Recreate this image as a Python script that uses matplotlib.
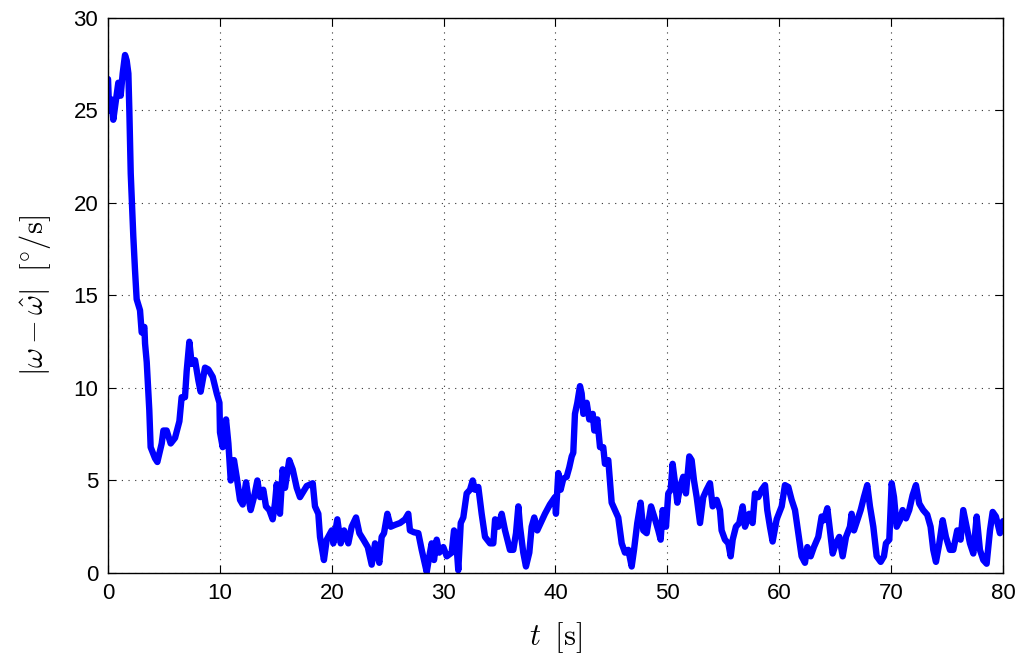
import matplotlib
matplotlib.use("Agg")
import matplotlib.pyplot as plt

# Estimation error |omega - omega_hat| over time
t = [0.0, 0.1, 0.3, 0.47, 0.7, 0.92, 1.13, 1.31, 1.52, 1.67, 1.82, 1.91, 2.03, 2.26,
     2.41, 2.56, 2.86, 3.01, 3.25, 3.31, 3.46, 3.69, 3.81, 4.2, 4.41, 4.8, 4.95, 5.24,
     5.6, 5.99, 6.38, 6.58, 6.88, 7.03, 7.27, 7.48, 7.78, 8.08, 8.28, 8.67, 8.97, 9.36,
     9.72, 9.96, 10.01, 10.25, 10.55, 10.76, 10.97, 11.26, 11.5, 11.8, 12.04, 12.34,
     12.54, 12.75, 13.05, 13.35, 13.59, 13.88, 14.12, 14.42, 14.72, 14.93, 15.08, 15.37,
     15.61, 15.82, 16.2, 16.51, 16.87, 17.16, 17.76, 18.3, 18.5, 18.8, 18.95, 19.3,
     19.55, 20.0, 20.14, 20.5, 20.8, 21.1, 21.48, 21.78, 22.17, 22.47, 22.83, 23.22,
     23.57, 23.87, 24.25, 24.46, 24.67, 24.97, 25.27, 25.65, 26.1, 26.55, 26.84, 26.99,
     27.35, 27.74, 28.04, 28.25, 28.49, 28.72, 28.93, 29.14, 29.38, 29.61, 29.97, 30.28,
     30.72, 30.93, 31.1, 31.31, 31.53, 31.76, 32.06, 32.36, 32.6, 32.8, 33.1, 33.4,
     33.7, 34.15, 34.44, 34.6, 34.89, 35.19, 35.49, 35.93, 36.23, 36.47, 36.68, 36.83,
     37.12, 37.36, 37.66, 37.87, 38.1, 38.37, 38.68, 39.06, 39.5, 39.95, 40.04, 40.25,
     40.46, 40.7, 41.0, 41.23, 41.45, 41.59, 41.74, 41.95, 42.19, 42.34, 42.49, 42.79,
     43.02, 43.33, 43.47, 43.74, 43.98, 44.27, 44.42, 44.72, 45.02, 45.32, 45.61, 45.92,
     46.21, 46.51, 46.81, 47.02, 47.31, 47.61, 47.85, 48.15, 48.54, 48.9, 49.19, 49.4,
     49.58, 49.88, 50.08, 50.3, 50.47, 50.68, 50.89, 51.13, 51.42, 51.66, 51.96, 52.17,
     52.38, 52.62, 52.92, 53.21, 53.51, 53.81, 54.05, 54.41, 54.7, 54.85, 55.15, 55.45,
     55.66, 55.84, 56.13, 56.43, 56.73, 56.94, 57.32, 57.62, 57.83, 58.13, 58.43, 58.73,
     58.93, 59.17, 59.41, 59.77, 60.22, 60.51, 60.81, 61.11, 61.41, 61.7, 62.0, 62.3,
     62.51, 62.81, 63.1, 63.49, 63.79, 64.0, 64.3, 64.54, 64.78, 65.07, 65.37, 65.67,
     65.97, 66.32, 66.47, 66.68, 66.98, 67.28, 67.57, 67.87, 68.11, 68.41, 68.71, 69.07,
     69.36, 69.54, 69.84, 70.05, 70.26, 70.5, 70.79, 71.03, 71.33, 71.62, 71.92, 72.22,
     72.52, 72.87, 73.23, 73.53, 73.77, 74.01, 74.31, 74.61, 74.9, 75.26, 75.56, 75.91,
     76.21, 76.45, 76.75, 77.05, 77.35, 77.65, 77.94, 78.24, 78.54, 78.84, 79.08, 79.37,
     79.73, 80.0]

err = [26.7, 25.0, 25.6, 24.5, 25.5, 26.5, 25.8, 27.0, 28.0, 27.7, 27.0, 24.9, 21.6, 18.2,
       16.4, 14.8, 14.2, 13.0, 13.3, 12.4, 11.4, 8.8, 6.8, 6.2, 6.0, 7.0, 7.7, 7.7,
       7.0, 7.3, 8.2, 9.5, 9.5, 10.9, 12.5, 11.3, 11.5, 10.4, 9.8, 11.1, 11.0, 10.6,
       9.7, 9.2, 7.6, 6.8, 8.3, 7.0, 5.0, 6.1, 5.2, 3.95, 3.7, 4.9,
       4.1, 3.4, 4.1, 5.0, 4.1, 4.5, 3.6, 3.4, 2.9, 3.8, 4.8, 3.2,
       5.6, 4.6, 6.1, 5.6, 4.6, 4.1, 4.7, 4.85, 3.6, 3.2, 1.95, 0.7,
       1.8, 2.3, 1.6, 2.9, 1.6, 2.3, 1.6, 2.5, 3.0, 2.15, 1.8, 1.4,
       0.45, 1.6, 0.55, 1.95, 2.15, 3.2, 2.5, 2.6, 2.7, 2.9, 3.2, 2.3,
       2.2, 2.15, 1.25, 0.7, 0.05, 0.9, 1.6, 0.7, 1.8, 1.1, 1.4, 0.9,
       1.1, 2.3, 1.95, 0.15, 2.7, 3.0, 4.3, 4.5, 5.0, 4.5, 4.65, 3.2,
       1.95, 1.6, 1.6, 2.9, 2.5, 3.2, 2.3, 1.25, 1.25, 2.15, 3.6, 2.5,
       1.1, 0.35, 1.1, 2.5, 3.0, 2.3, 2.7, 3.2, 3.7, 4.1, 3.2, 5.4,
       4.5, 5.1, 5.2, 5.7, 6.3, 6.5, 8.6, 9.2, 10.1, 9.7, 8.6, 9.2,
       8.3, 8.6, 7.7, 8.3, 6.8, 6.8, 5.9, 6.1, 3.8, 3.4, 3.0, 1.6,
       1.1, 1.25, 0.35, 1.25, 2.7, 3.8, 2.3, 2.15, 3.6, 2.9, 2.3, 1.8,
       3.4, 2.5, 4.3, 4.5, 5.9, 4.9, 3.8, 4.65, 5.2, 4.3, 6.3, 6.1,
       5.0, 4.1, 2.7, 4.1, 4.5, 4.85, 3.6, 3.95, 3.4, 2.3, 1.8, 1.6,
       0.9, 1.8, 2.5, 2.7, 3.6, 2.5, 3.2, 2.7, 4.3, 4.1, 4.5, 4.75,
       3.4, 2.5, 1.7, 2.9, 3.6, 4.75, 4.65, 3.95, 3.4, 2.15, 0.9, 0.55,
       1.4, 0.9, 1.4, 1.95, 3.05, 2.85, 3.5, 2.3, 1.05, 1.6, 1.95, 0.9,
       1.95, 2.5, 3.2, 2.3, 2.85, 3.4, 4.1, 4.75, 3.6, 2.5, 0.9, 0.6,
       0.9, 1.6, 1.8, 4.85, 4.1, 2.5, 2.85, 3.4, 2.95, 3.4, 4.2, 4.75,
       3.75, 3.4, 3.15, 2.5, 1.25, 0.6, 1.6, 2.85, 1.95, 1.25, 1.25, 2.3,
       1.8, 3.4, 2.5, 1.6, 1.05, 3.05, 1.25, 0.7, 0.5, 2.3, 3.3, 3.05,
       2.15, 2.8]

x_ticks = [0, 10, 20, 30, 40, 50, 60, 70, 80]
y_ticks = [0, 5, 10, 15, 20, 25, 30]

plt.rcParams["font.family"] = ["Liberation Sans", "DejaVu Sans"]
plt.rcParams["mathtext.fontset"] = "cm"

fig = plt.figure(figsize=(10.2, 6.57), dpi=100)
ax = fig.add_axes([0.1059, 0.1279, 0.8774, 0.8447])

ax.plot(t, err, color=(0, 0, 1), linewidth=4.6, solid_joinstyle="round",
        solid_capstyle="round")

ax.set_xlim(0, 80)
ax.set_ylim(0, 30)
ax.set_xticks(x_ticks)
ax.set_yticks(y_ticks)
ax.tick_params(direction="in", length=6, width=0.8, labelsize=16,
               top=True, right=True, pad=7)
ax.grid(True, color="#333333", linestyle=(0, (1, 5)), linewidth=0.8)
for s in ax.spines.values():
    s.set_linewidth(1.0)

ax.set_xlabel(r"$t\;\;[\mathrm{s}]$", fontsize=22, labelpad=12)
ax.set_ylabel(r"$|\omega-\hat{\omega}|\;\;[^{\circ}/\mathrm{s}]$", fontsize=22, labelpad=15)

fig.savefig("out.png", dpi=100)
